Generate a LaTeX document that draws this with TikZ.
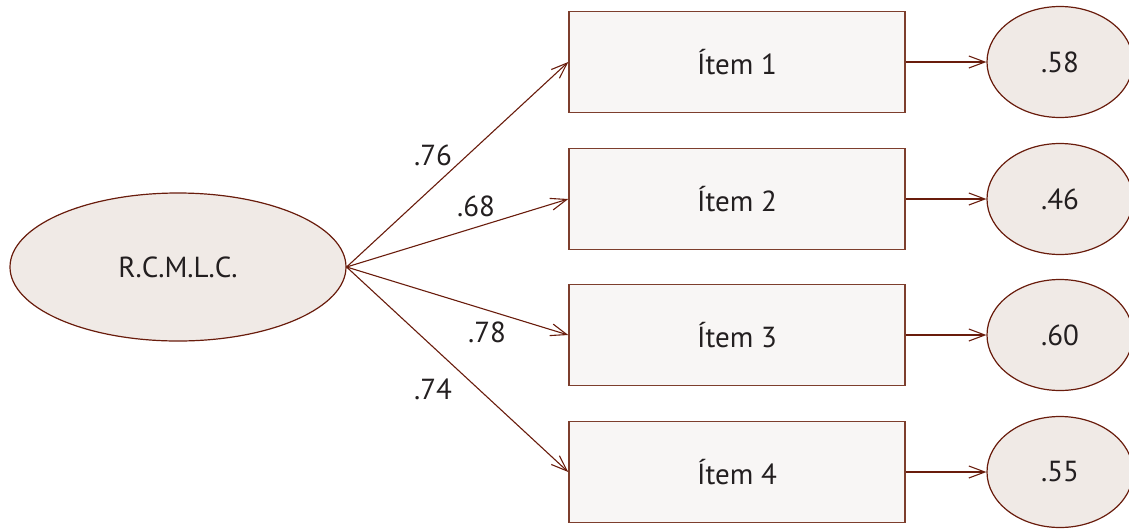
\documentclass[tikz,border=0pt]{standalone}
\usepackage{fontspec}
\setmainfont{PT Sans}
\usepackage{tikz}
\usepackage{xcolor}
\usetikzlibrary{arrows.meta,positioning,calc,shapes.geometric}
\definecolor{rust}{RGB}{105,28,12}
\definecolor{boxline}{RGB}{125,62,45}
\definecolor{latfill}{RGB}{240,234,230}
\definecolor{boxfill}{RGB}{248,246,245}
\definecolor{ink}{RGB}{35,31,32}

\begin{document}
\begin{tikzpicture}[x=1pt,y=-1pt,
  font=\fontsize{29}{33}\selectfont\color{ink},
  latent/.style={draw=rust, line width=1.2pt, ellipse, fill=latfill, inner sep=0pt},
  item/.style={draw=boxline, line width=1.5pt, rectangle, fill=boxfill,
    minimum width=336pt, minimum height=101pt, inner sep=0pt},
  path/.style={draw=rust, line width=1.1pt, -{Straight Barb[length=16pt,width=12pt]}}]
\useasboundingbox (0,0) rectangle (1129,531);

\node[latent, minimum width=336pt, minimum height=148pt] (F) at (178,267) {R.C.M.L.C.};

\node[item] (I1) at (737,62) {Ítem 1};
\node[item] (I2) at (737,199) {Ítem 2};
\node[item] (I3) at (737,335) {Ítem 3};
\node[item] (I4) at (737,472) {Ítem 4};

\node[latent, minimum width=146pt, minimum height=111pt] (E1) at (1060,62) {.58};
\node[latent, minimum width=146pt, minimum height=111pt] (E2) at (1060,199) {.46};
\node[latent, minimum width=146pt, minimum height=111pt] (E3) at (1060,335) {.60};
\node[latent, minimum width=146pt, minimum height=111pt] (E4) at (1060,472) {.55};

% loadings
\draw[path] (F.east) -- (I1.west);
\draw[path] (F.east) -- (I2.west);
\draw[path] (F.east) -- (I3.west);
\draw[path] (F.east) -- (I4.west);

% items to residuals
\draw[path] (I1) -- (E1);
\draw[path] (I2) -- (E2);
\draw[path] (I3) -- (E3);
\draw[path] (I4) -- (E4);

\node (L1) at (433,155) {.76};
\node (L2) at (476,206) {.68};
\node (L3) at (487,332) {.78};
\node (L4) at (433,389) {.74};
\end{tikzpicture}
\end{document}
